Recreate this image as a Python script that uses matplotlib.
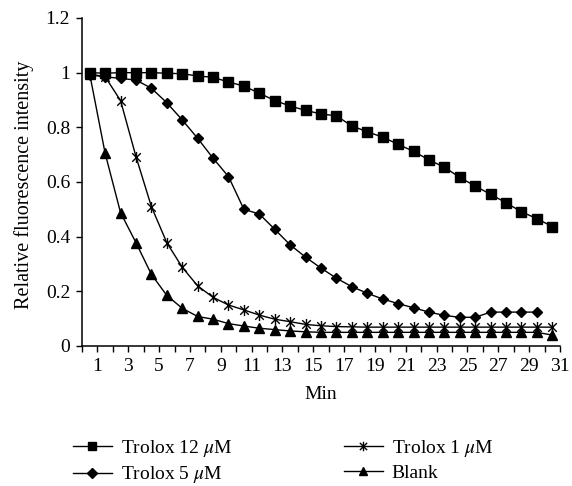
import numpy as np
import matplotlib
matplotlib.use("Agg")
import matplotlib.pyplot as plt
from matplotlib.path import Path

plt.rcParams['font.family'] = ['Liberation Serif', 'DejaVu Serif']
plt.rcParams['mathtext.fontset'] = 'stix'

# data (relative fluorescence vs minute)
minutes = np.arange(1, 32)
trolox12 = [1.0, 0.998, 1.0, 1.0, 1.0, 0.998, 0.996, 0.988, 0.983, 0.966, 0.951,
            0.925, 0.898, 0.878, 0.862, 0.849, 0.842, 0.805, 0.784, 0.764, 0.738,
            0.712, 0.681, 0.654, 0.617, 0.585, 0.555, 0.524, 0.491, 0.466, 0.437]
trolox5 = [0.992, 0.985, 0.979, 0.973, 0.943, 0.890, 0.827, 0.760, 0.687, 0.620,
           0.500, 0.483, 0.427, 0.370, 0.325, 0.285, 0.248, 0.217, 0.193, 0.172,
           0.155, 0.140, 0.124, 0.112, 0.105, 0.105, 0.124, 0.124, 0.124, 0.124]
trolox1 = [0.995, 0.985, 0.898, 0.693, 0.510, 0.378, 0.288, 0.220, 0.178, 0.150,
           0.132, 0.113, 0.098, 0.089, 0.079, 0.074, 0.071, 0.070, 0.069, 0.069,
           0.069, 0.069, 0.069, 0.069, 0.069, 0.069, 0.069, 0.069, 0.069, 0.069, 0.069]
blank = [0.995, 0.705, 0.488, 0.378, 0.262, 0.185, 0.138, 0.108, 0.098, 0.082,
         0.073, 0.065, 0.060, 0.055, 0.052, 0.050, 0.050, 0.050, 0.050, 0.050,
         0.050, 0.050, 0.050, 0.050, 0.050, 0.050, 0.050, 0.050, 0.050, 0.050, 0.040]
labels = ['Trolox 12 $\\mu$M', 'Trolox 5 $\\mu$M', 'Trolox 1 $\\mu$M', 'Blank']
yticks = [0, 0.2, 0.4, 0.6, 0.8, 1, 1.2]
ytick_labels = ['0', '0.2', '0.4', '0.6', '0.8', '1', '1.2']

# excel style star: x plus vertical bar
star = Path([(-1, -1), (1, 1), (-1, 1), (1, -1), (0, -1.3), (0, 1.3)],
            [Path.MOVETO, Path.LINETO, Path.MOVETO, Path.LINETO, Path.MOVETO, Path.LINETO])

fs = 14
fig = plt.figure(figsize=(5.72, 4.86), dpi=100)
ax = fig.add_axes([82/572, 1-346/486, 478/572, 328/486])

# excel category axis: points sit between the tick marks
x = minutes - 0.5
l1, = ax.plot(x, trolox12, color='black', lw=1, marker='s', ms=6.5)
l2, = ax.plot(x[:len(trolox5)], trolox5, color='black', lw=1, marker='D', ms=5.5)
l3, = ax.plot(x, trolox1, color='black', lw=1, marker=star, ms=8, mfc='none', mew=1)
l4, = ax.plot(x, blank, color='black', lw=1, marker='^', ms=7)

ax.set_xlim(0, 31)
ax.set_ylim(0, 1.2)
ax.set_xticks(np.arange(0, 32))
ax.set_xticklabels([str(m) if m % 2 == 1 else '' for m in range(0, 32)])
ax.set_yticks(yticks)
ax.set_yticklabels(ytick_labels)
ax.tick_params(direction='out', length=4.5, width=1, labelsize=fs, colors='black', pad=4)
for s in ['top', 'right']:
    ax.spines[s].set_visible(False)
for s in ['left', 'bottom']:
    ax.spines[s].set_linewidth(1.1)

ax.set_xlabel('Min', fontsize=fs, labelpad=8)
ax.set_ylabel('Relative fluorescence intensity', fontsize=14.5)
ax.yaxis.set_label_coords(-0.1, 0.49)

fig.legend([l1, l2], labels[:2], loc='upper left', bbox_to_anchor=(73/572, 1-438/486),
           frameon=False, fontsize=fs, handlelength=2.0, handletextpad=0.45,
           labelspacing=0.28, borderpad=0, borderaxespad=0, markerscale=0.85)
fig.legend([l3, l4], labels[2:], loc='upper left', bbox_to_anchor=(344/572, 1-438/486),
           frameon=False, fontsize=fs, handlelength=2.0, handletextpad=0.45,
           labelspacing=0.28, borderpad=0, borderaxespad=0, markerscale=0.85)

fig.savefig('out.png', dpi=100)
